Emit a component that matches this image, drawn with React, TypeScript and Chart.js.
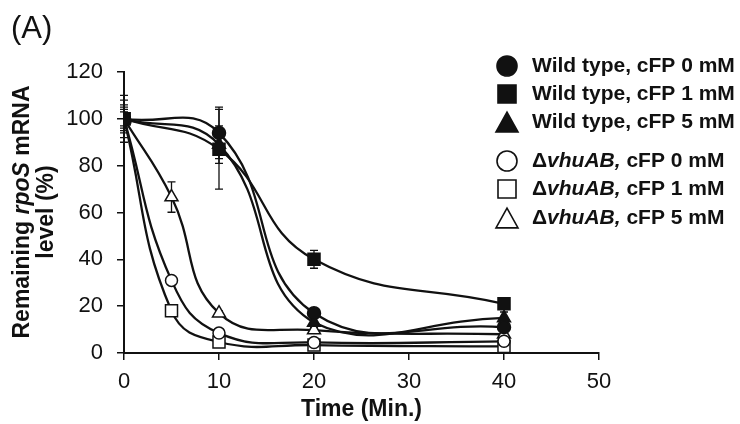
import React, { useEffect, useRef } from 'react';
import { Chart, registerables } from 'chart.js';
Chart.register(...registerables);

const timesWT = [0, 10, 20, 40];
const timesMut = [0, 5, 10, 20, 40];

const wt0 = [100, 94, 17, 11];
const wt0Err = [10, 11, 1.5, 2];
const wt1 = [100, 87, 40, 21];
const wt1Err = [8, 17, 3.8, 1.5];
const wt5 = [100, 89, 13, 15];
const wt5Err = [5, 8, 2, 2.5];
const mut0 = [100, 31, 8.5, 4.5, 5];
const mut0Err = [4, 1.5, 1, 0.5, 1];
const mut1 = [100, 18, 4.7, 3.4, 2.8];
const mut1Err = [6, 1, 1, 0.5, 1];
const mut5 = [100, 66.6, 17, 9.8, 8];
const mut5Err = [3, 6.5, 1, 1, 1];

const xMin = 0, xMax = 50, xStep = 10;
const yMin = 0, yMax = 120, yStep = 20;

const legendPrefixWT = 'Wild type, cFP ';
const legendPrefixMut = 'vhuAB,';
const concentrations = ['0 mM', '1 mM', '5 mM'];

const FONT = "'Liberation Sans', Arial, sans-serif";
const INK = '#111';

type Series = { label: string; xs: number[]; ys: number[]; err: number[]; style: string; filled: boolean; radius: number; mut: boolean; conc: string };

const series: Series[] = [
  { label: 'Wild type, cFP 0 mM', xs: timesWT, ys: wt0, err: wt0Err, style: 'circle', filled: true, radius: 6.5, mut: false, conc: concentrations[0] },
  { label: 'Wild type, cFP 1 mM', xs: timesWT, ys: wt1, err: wt1Err, style: 'rect', filled: true, radius: 8.5, mut: false, conc: concentrations[1] },
  { label: 'Wild type, cFP 5 mM', xs: timesWT, ys: wt5, err: wt5Err, style: 'triangle', filled: true, radius: 7.5, mut: false, conc: concentrations[2] },
  { label: 'ΔvhuAB, cFP 0 mM', xs: timesMut, ys: mut0, err: mut0Err, style: 'circle', filled: false, radius: 6, mut: true, conc: concentrations[0] },
  { label: 'ΔvhuAB, cFP 1 mM', xs: timesMut, ys: mut1, err: mut1Err, style: 'rect', filled: false, radius: 8.5, mut: true, conc: concentrations[1] },
  { label: 'ΔvhuAB, cFP 5 mM', xs: timesMut, ys: mut5, err: mut5Err, style: 'triangle', filled: false, radius: 7.5, mut: true, conc: concentrations[2] },
];

function drawMarker(ctx: CanvasRenderingContext2D, style: string, x: number, y: number, size: number) {
  ctx.beginPath();
  if (style === 'circle') {
    ctx.arc(x, y, size / 2, 0, Math.PI * 2);
  } else if (style === 'rect') {
    ctx.rect(x - size / 2, y - size / 2, size, size);
  } else {
    const h = size * 0.9;
    ctx.moveTo(x, y - h / 2);
    ctx.lineTo(x + size / 2, y + h / 2);
    ctx.lineTo(x - size / 2, y + h / 2);
    ctx.closePath();
  }
  ctx.fill();
  ctx.stroke();
}

const errorBarPlugin = {
  id: 'errorBars',
  beforeDatasetsDraw(chart: any) {
    const ctx = chart.ctx;
    const xs = chart.scales.x;
    const ys = chart.scales.y;
    ctx.save();
    ctx.strokeStyle = INK;
    ctx.lineWidth = 1.3;
    series.forEach((s) => {
      s.xs.forEach((xv, i) => {
        const e = s.err[i];
        const px = xs.getPixelForValue(xv);
        const top = ys.getPixelForValue(s.ys[i] + e);
        const bot = ys.getPixelForValue(s.ys[i] - e);
        ctx.beginPath();
        ctx.moveTo(px, top);
        ctx.lineTo(px, bot);
        ctx.moveTo(px - 4, top);
        ctx.lineTo(px + 4, top);
        ctx.moveTo(px - 4, bot);
        ctx.lineTo(px + 4, bot);
        ctx.stroke();
      });
    });
    ctx.restore();
  },
};

const decorPlugin = {
  id: 'decor',
  afterDraw(chart: any) {
    const ctx = chart.ctx;
    ctx.save();
    ctx.fillStyle = INK;
    ctx.font = `31px ${FONT}`;
    ctx.textBaseline = 'middle';
    ctx.textAlign = 'left';
    ctx.fillText('(A)', 11, 29);

    ctx.save();
    ctx.translate(23, 212);
    ctx.rotate(-Math.PI / 2);
    const fs = 23;
    const parts1 = [
      { t: 'Remaining ', f: `bold ${fs}px ${FONT}` },
      { t: 'rpoS', f: `italic bold ${fs}px ${FONT}` },
      { t: ' mRNA', f: `bold ${fs}px ${FONT}` },
    ];
    let w = 0;
    parts1.forEach((p) => { ctx.font = p.f; w += ctx.measureText(p.t).width; });
    let x = -w / 2;
    ctx.textAlign = 'left';
    parts1.forEach((p) => { ctx.font = p.f; ctx.fillText(p.t, x, 0); x += ctx.measureText(p.t).width; });
    ctx.font = `bold ${fs}px ${FONT}`;
    ctx.textAlign = 'center';
    ctx.fillText('level (%)', 0, 24);
    ctx.restore();

    const rowY = [66, 94, 122, 161, 189, 218];
    const mx = 507;
    const tx = 532;
    series.forEach((s, i) => {
      const y = rowY[i];
      ctx.fillStyle = s.filled ? INK : '#fff';
      ctx.strokeStyle = INK;
      ctx.lineWidth = 1.6;
      const size = s.style === 'circle' ? 20 : s.style === 'rect' ? 18 : 22;
      drawMarker(ctx, s.style, mx, y, size);
      ctx.fillStyle = INK;
      ctx.textAlign = 'left';
      ctx.textBaseline = 'middle';
      if (!s.mut) {
        ctx.font = `bold 21px ${FONT}`;
        ctx.fillText(legendPrefixWT + s.conc, tx, y);
      } else {
        let px = tx;
        ctx.font = `bold 21px ${FONT}`;
        ctx.fillText('Δ', px, y);
        px += ctx.measureText('Δ').width;
        ctx.font = `italic bold 21px ${FONT}`;
        ctx.fillText(legendPrefixMut, px, y);
        px += ctx.measureText(legendPrefixMut).width;
        ctx.font = `bold 21px ${FONT}`;
        ctx.fillText(' cFP ' + s.conc, px, y);
      }
    });
    ctx.restore();
  },
};

export default function App() {
  const ref = useRef<HTMLCanvasElement>(null);
  useEffect(() => {
    if (!ref.current) return;
    const chart = new Chart(ref.current, {
      type: 'line',
      data: {
        datasets: series.map((s) => ({
          label: s.label,
          data: s.xs.map((x, i) => ({ x, y: s.ys[i] })),
          borderColor: INK,
          borderWidth: 2.3,
          tension: 0.45,
          pointStyle: s.style as any,
          pointRadius: s.radius,
          pointBackgroundColor: s.filled ? INK : '#fff',
          pointBorderColor: INK,
          pointBorderWidth: 1.5,
          fill: false,
        })),
      },
      options: {
        responsive: false,
        animation: false,
        devicePixelRatio: 1,
        layout: { padding: { left: 0, right: 141, top: 72, bottom: 0 } },
        plugins: { legend: { display: false }, title: { display: false }, tooltip: { enabled: false } },
        scales: {
          x: {
            type: 'linear',
            min: xMin,
            max: xMax,
            ticks: { stepSize: xStep, font: { family: FONT, size: 22 }, color: INK, padding: 9 },
            grid: { display: true, drawOnChartArea: false, drawTicks: true, tickLength: 7, color: INK, lineWidth: 1.5 },
            border: { display: true, color: INK, width: 2 },
            title: { display: true, text: 'Time (Min.)', font: { family: FONT, size: 23, weight: 'bold' }, color: INK, padding: { top: 0, bottom: 1 } },
            afterFit: (s: any) => { s.height = 71; },
          },
          y: {
            min: yMin,
            max: yMax,
            ticks: { stepSize: yStep, font: { family: FONT, size: 22 }, color: INK, padding: 14 },
            grid: { display: true, drawOnChartArea: false, drawTicks: true, tickLength: 7, color: INK, lineWidth: 1.5 },
            border: { display: true, color: INK, width: 2 },
            afterFit: (s: any) => { s.width = 124; },
          },
        },
      },
      plugins: [errorBarPlugin, decorPlugin],
    });
    return () => chart.destroy();
  }, []);
  return (
    <div style={{ position: 'absolute', left: 0, top: 0, width: 740, height: 424, background: '#fff' }}>
      <canvas ref={ref} width={740} height={424} />
    </div>
  );
}
